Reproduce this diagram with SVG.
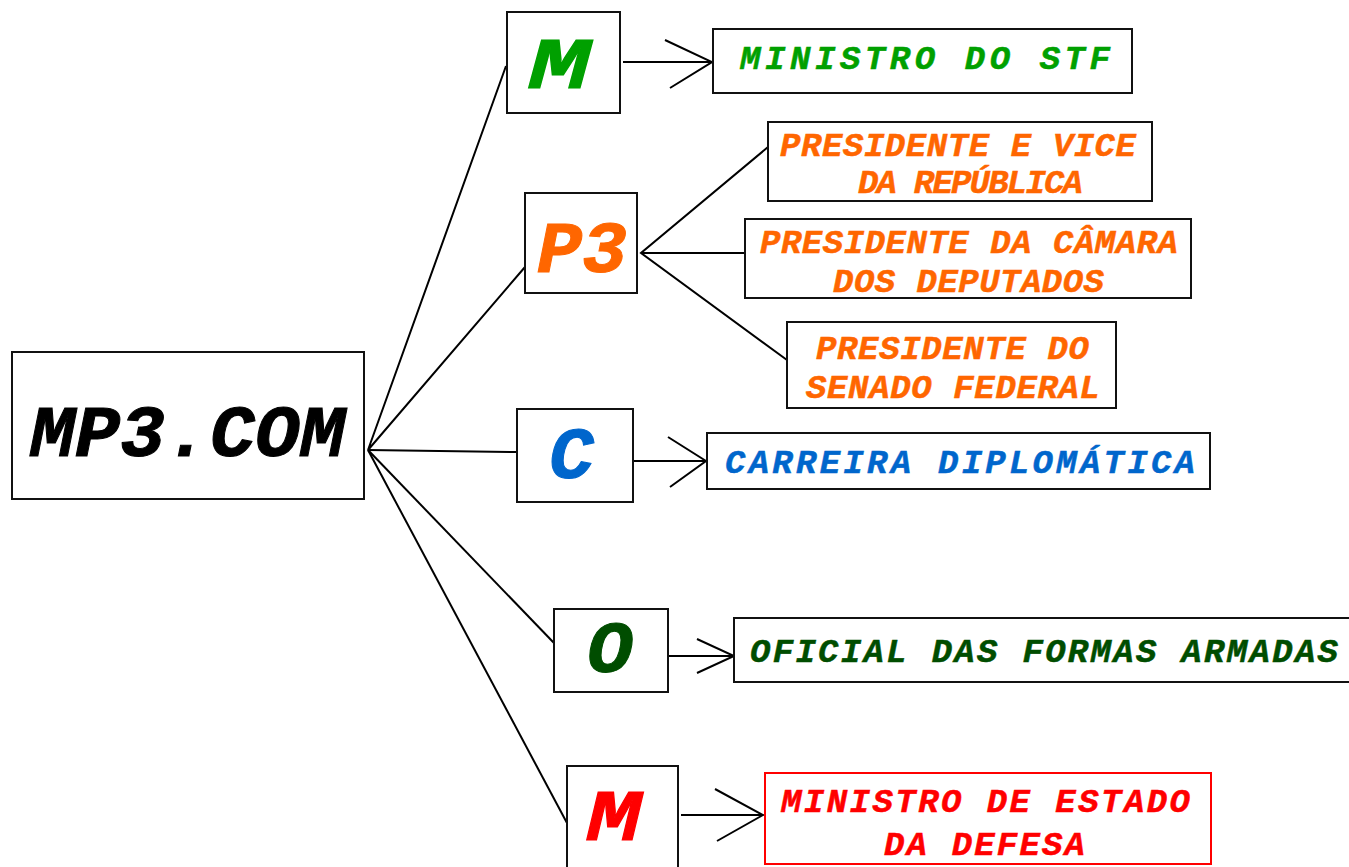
<svg xmlns="http://www.w3.org/2000/svg" width="1349" height="867" viewBox="0 0 1349 867">
<style>
.b{fill:#fff;stroke:#111;stroke-width:2}
.t{font-family:"Liberation Mono","Courier New",monospace;font-weight:bold;font-style:italic}
.big{font-size:72px;stroke-width:1}
.sm{font-size:34px;stroke-width:0.5}
.c{fill:none;stroke:#000;stroke-width:2}
</style>
<rect width="1349" height="867" fill="#fff"/>
<g id="connectors" class="c">
<polyline points="506,66 368,450 525,267"/>
<polyline points="368,450 517,452"/>
<polyline points="368,450 554,643"/>
<polyline points="368,450 567,823"/>
<line x1="623" y1="62" x2="711" y2="62"/>
<polyline points="665,40 712,62 670,88"/>
<polyline points="768,147 641,253 787,360"/>
<line x1="641" y1="253" x2="745" y2="253"/>
<line x1="633" y1="461" x2="705" y2="461"/>
<polyline points="668,437 706,461 670,487"/>
<line x1="668" y1="656" x2="733" y2="656"/>
<polyline points="697,639 734,656 697,673"/>
<line x1="681" y1="815" x2="762" y2="815"/>
<polyline points="715,789 763,815 717,841"/>
</g>
<g id="root"><rect class="b" x="12" y="352" width="352" height="147"/><text class="t big" x="30" y="456" fill="#000" stroke="#000" textLength="315" lengthAdjust="spacingAndGlyphs">MP3.COM</text></g>
<g id="m1"><rect class="b" x="507" y="12" width="113" height="101"/><text class="t big" x="529" y="88" fill="#00a000" stroke="#00a000" textLength="61" lengthAdjust="spacingAndGlyphs">M</text></g>
<g id="p3"><rect class="b" x="525" y="193" width="112" height="100"/><text class="t big" x="537" y="272" fill="#ff6600" stroke="#ff6600" textLength="90" lengthAdjust="spacingAndGlyphs">P3</text></g>
<g id="c"><rect class="b" x="517" y="409" width="116" height="93"/><text class="t big" x="549" y="478" fill="#0066cc" stroke="#0066cc" textLength="45" lengthAdjust="spacingAndGlyphs">C</text></g>
<g id="o"><rect class="b" x="554" y="609" width="114" height="83"/><text class="t big" x="587" y="672" fill="#004d00" stroke="#004d00" textLength="46" lengthAdjust="spacingAndGlyphs">O</text></g>
<g id="m2"><rect class="b" x="567" y="766" width="111" height="104"/><text class="t big" x="587" y="840" fill="#ff0000" stroke="#ff0000" textLength="54" lengthAdjust="spacingAndGlyphs">M</text></g>
<g id="stf"><rect class="b" x="713" y="29" width="419" height="64"/><text class="t sm" x="740" y="69" fill="#00a000" stroke="#00a000" textLength="370">MINISTRO DO STF</text></g>
<g id="pres"><rect class="b" x="768" y="122" width="384" height="79"/><text class="t sm" fill="#ff6600" stroke="#ff6600"><tspan x="780" y="156" textLength="356">PRESIDENTE E VICE</tspan><tspan x="858" y="193" textLength="225">DA REPÚBLICA</tspan></text></g>
<g id="camara"><rect class="b" x="745" y="219" width="446" height="79"/><text class="t sm" fill="#ff6600" stroke="#ff6600"><tspan x="760" y="253" textLength="418">PRESIDENTE DA CÂMARA</tspan><tspan x="833" y="292" textLength="271">DOS DEPUTADOS</tspan></text></g>
<g id="senado"><rect class="b" x="787" y="322" width="329" height="86"/><text class="t sm" fill="#ff6600" stroke="#ff6600"><tspan x="816" y="359" textLength="273">PRESIDENTE DO</tspan><tspan x="806" y="398" textLength="294">SENADO FEDERAL</tspan></text></g>
<g id="carreira"><rect class="b" x="707" y="433" width="503" height="56"/><text class="t sm" x="725" y="473" fill="#0066cc" stroke="#0066cc" textLength="470">CARREIRA DIPLOMÁTICA</text></g>
<g id="oficial"><rect class="b" x="734" y="618" width="620" height="64"/><text class="t sm" x="750" y="662" fill="#004d00" stroke="#004d00" textLength="588">OFICIAL DAS FORMAS ARMADAS</text></g>
<g id="defesa"><rect x="765" y="773" width="446" height="91" fill="#fff" stroke="#ff0000" stroke-width="2"/><text class="t sm" fill="#ff0000" stroke="#ff0000"><tspan x="781" y="812" textLength="409">MINISTRO DE ESTADO</tspan><tspan x="884" y="855" textLength="201">DA DEFESA</tspan></text></g>
</svg>
